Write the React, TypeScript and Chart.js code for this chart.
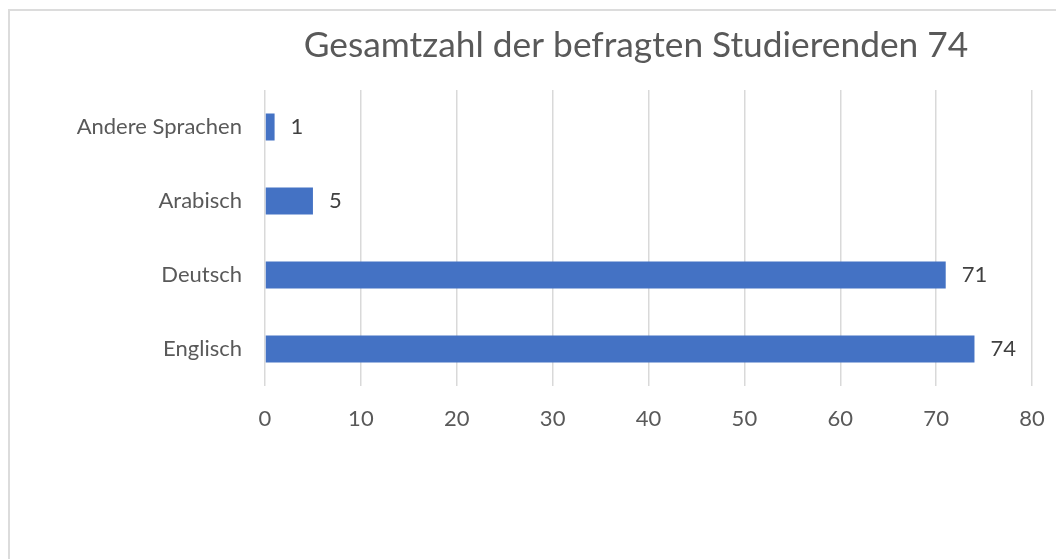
import { useEffect, useRef } from "react";
import { Chart, registerables } from "chart.js";

Chart.register(...registerables);

const categories = ["Andere Sprachen", "Arabisch", "Deutsch", "Englisch"];
const values = [1, 5, 71, 74];
const xTicks = [0, 10, 20, 30, 40, 50, 60, 70, 80];
const titleText = "Gesamtzahl der befragten Studierenden 74";

const FONT = "Lato, 'Open Sans', sans-serif";

const titlePlugin = {
  id: "customTitle",
  afterDraw(chart: any) {
    const ctx = chart.ctx;
    ctx.save();
    ctx.font = `35.3px ${FONT}`;
    ctx.fillStyle = "#595959";
    ctx.textAlign = "center";
    ctx.textBaseline = "alphabetic";
    ctx.fillText(titleText, 636, 57);
    ctx.restore();
  },
};

const valueLabelPlugin = {
  id: "valueLabels",
  afterDatasetsDraw(chart: any) {
    const ctx = chart.ctx;
    const meta = chart.getDatasetMeta(0);
    ctx.save();
    ctx.font = `22px ${FONT}`;
    ctx.fillStyle = "#404040";
    ctx.textAlign = "left";
    ctx.textBaseline = "middle";
    meta.data.forEach((bar: any, i: number) => {
      ctx.fillText(String(values[i]), bar.x + 16, bar.y);
    });
    ctx.restore();
  },
};

export default function App() {
  const ref = useRef<HTMLCanvasElement | null>(null);

  useEffect(() => {
    if (!ref.current) return;
    const chart = new Chart(ref.current, {
      type: "bar",
      data: {
        labels: categories,
        datasets: [
          {
            data: values,
            backgroundColor: "#4472C4",
            borderWidth: 0,
            barPercentage: 0.365,
            categoryPercentage: 1,
          },
        ],
      },
      options: {
        indexAxis: "y",
        responsive: false,
        animation: false,
        layout: { padding: { left: 0, right: 24, top: 90, bottom: 559 - 386 - 60 } },
        plugins: {
          legend: { display: false },
          title: { display: false },
          tooltip: { enabled: false },
        },
        scales: {
          x: {
            min: 0,
            max: 80,
            afterBuildTicks: (s: any) => {
              s.ticks = xTicks.map((v) => ({ value: v }));
            },
            afterFit: (s: any) => {
              s.height = 60;
              s.paddingLeft = 0;
              s.paddingRight = 0;
            },
            grid: { color: "#d9d9d9", lineWidth: 1.5, drawTicks: false },
            border: { display: false },
            ticks: {
              padding: 20,
              color: "#595959",
              font: { family: FONT, size: 22 },
              maxRotation: 0,
              autoSkip: false,
            },
          },
          y: {
            afterFit: (s: any) => {
              s.width = 265;
              s.paddingTop = 0;
              s.paddingBottom = 0;
            },
            grid: { display: false, drawTicks: false },
            border: { display: false },
            ticks: {
              padding: 23,
              color: "#595959",
              font: { family: FONT, size: 22 },
            },
          },
        },
      },
      plugins: [titlePlugin, valueLabelPlugin],
    });
    return () => chart.destroy();
  }, []);

  return (
    <div style={{ position: "fixed", left: 0, top: 0, width: 1056, height: 559, overflow: "hidden", background: "#fff" }}>
      <div style={{ position: "absolute", left: 8, top: 9, width: 2, height: 600, background: "#dcdcdc" }} />
      <div style={{ position: "absolute", left: 8, top: 9, width: 1100, height: 2, background: "#dcdcdc" }} />
      <canvas ref={ref} width={1056} height={559} style={{ position: "absolute", left: 0, top: 0 }} />
    </div>
  );
}
